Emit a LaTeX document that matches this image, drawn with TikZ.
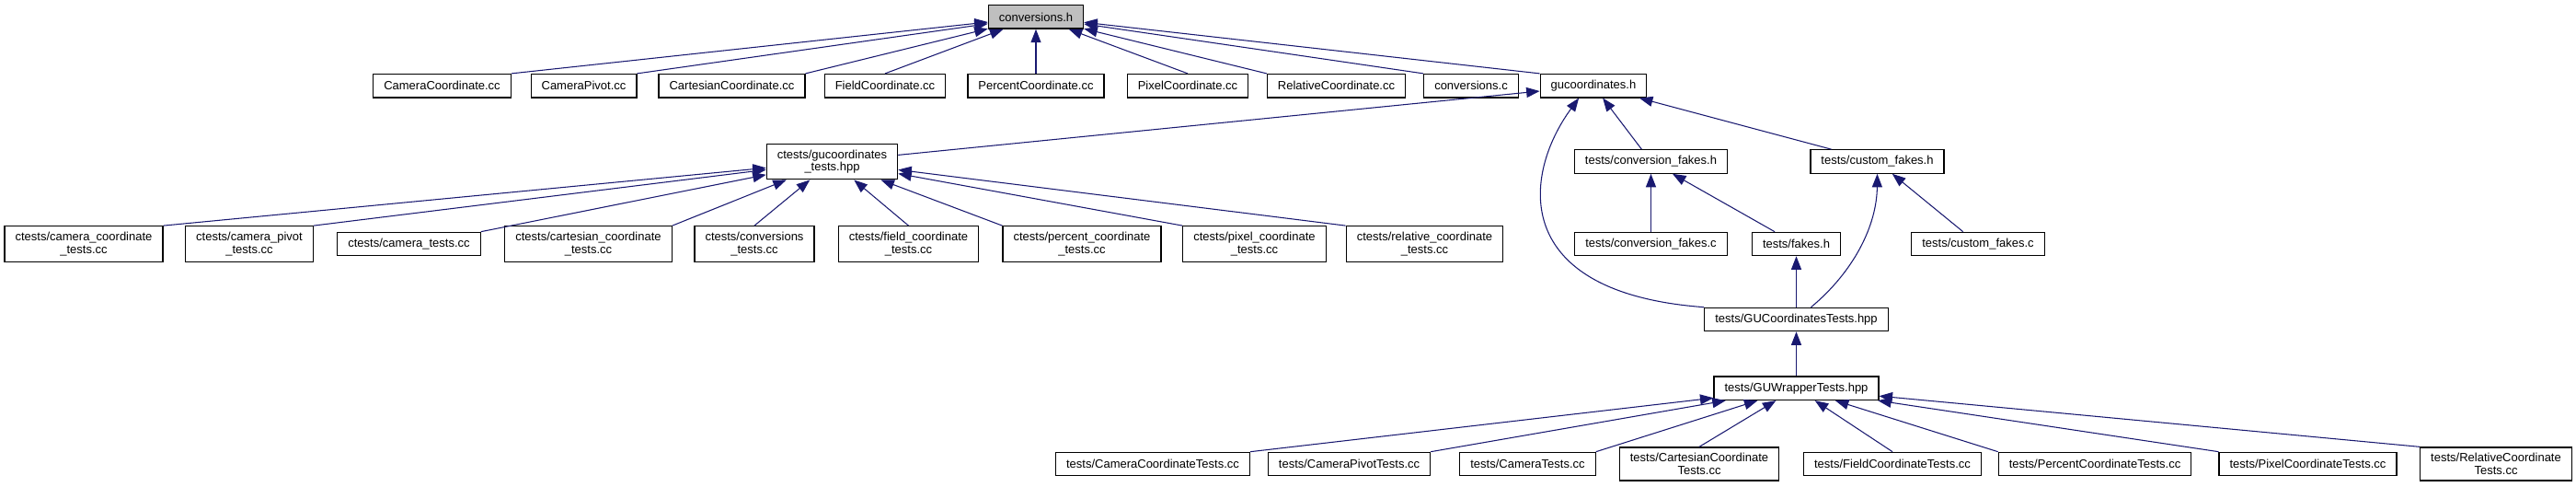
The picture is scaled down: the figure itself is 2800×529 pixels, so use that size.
\documentclass[tikz,border=0pt]{standalone}
\usepackage{fontspec}
\setmainfont{Liberation Sans}
\usetikzlibrary{arrows.meta}
\definecolor{edgeblue}{RGB}{25,25,112}
\begin{document}
\begin{tikzpicture}[x=0.2mm,y=0.2mm,
  file/.style={draw=black, line width=0.7pt, rectangle, align=center, fill=white,
    inner xsep=2.3mm, inner ysep=1.3mm, minimum height=5.08mm,
    font=\fontsize{7.4}{7.7}\selectfont},
  root/.style={file, fill=black!25},
  inc/.style={draw=edgeblue, line width=0.6pt, -{Triangle[length=2.9mm,width=2.2mm]}}]
\useasboundingbox (0,0) rectangle (2800,-529);
% the header and its direct includers
\node[root] (convh) at (1126,-18.4) {conversions.h};
\node[file] (camcc) at (480.5,-93.2) {CameraCoordinate.cc};
\node[file] (pivcc) at (634.5,-93.2) {CameraPivot.cc};
\node[file] (cartcc) at (795.5,-93.2) {CartesianCoordinate.cc};
\node[file] (fieldcc) at (962,-93.2) {FieldCoordinate.cc};
\node[file] (pctcc) at (1126,-93.2) {PercentCoordinate.cc};
\node[file] (pixcc) at (1291,-93.2) {PixelCoordinate.cc};
\node[file] (relcc) at (1452.5,-93.2) {RelativeCoordinate.cc};
\node[file] (convc) at (1599,-93.2) {conversions.c};
\node[file] (guh) at (1732,-93.2) {gucoordinates.h};
% second level
\node[file] (cthpp) at (904.5,-175.5) {ctests/gucoordinates\\\_tests.hpp};
\node[file] (cfakeh) at (1794.5,-175.5) {tests/conversion\_fakes.h};
\node[file] (custh) at (2040.5,-175.5) {tests/custom\_fakes.h};
% ctests sources and fakes
\node[file] (ctcam) at (91,-265) {ctests/camera\_coordinate\\\_tests.cc};
\node[file] (ctpiv) at (271,-265) {ctests/camera\_pivot\\\_tests.cc};
\node[file] (ctcamt) at (444.5,-265) {ctests/camera\_tests.cc};
\node[file] (ctcart) at (639.5,-265) {ctests/cartesian\_coordinate\\\_tests.cc};
\node[file] (ctconv) at (820,-265) {ctests/conversions\\\_tests.cc};
\node[file] (ctfield) at (987.5,-265) {ctests/field\_coordinate\\\_tests.cc};
\node[file] (ctpct) at (1176,-265) {ctests/percent\_coordinate\\\_tests.cc};
\node[file] (ctpix) at (1363.5,-265) {ctests/pixel\_coordinate\\\_tests.cc};
\node[file] (ctrel) at (1548.5,-265) {ctests/relative\_coordinate\\\_tests.cc};
\node[file] (cfakec) at (1794.5,-265) {tests/conversion\_fakes.c};
\node[file] (fakesh) at (1952.5,-265) {tests/fakes.h};
\node[file] (custc) at (2150,-265) {tests/custom\_fakes.c};
% test wrappers
\node[file] (guct) at (1952.5,-347) {tests/GUCoordinatesTests.hpp};
\node[file] (guwt) at (1952.5,-421.8) {tests/GUWrapperTests.hpp};
% bottom row
\node[file] (tcam) at (1253,-504) {tests/CameraCoordinateTests.cc};
\node[file] (tpiv) at (1466.5,-504) {tests/CameraPivotTests.cc};
\node[file] (tcamt) at (1660.5,-504) {tests/CameraTests.cc};
\node[file] (tcart) at (1847,-504) {tests/CartesianCoordinate\\Tests.cc};
\node[file] (tfield) at (2057,-504) {tests/FieldCoordinateTests.cc};
\node[file] (tpct) at (2277,-504) {tests/PercentCoordinateTests.cc};
\node[file] (tpix) at (2508.5,-504) {tests/PixelCoordinateTests.cc};
\node[file] (trel) at (2713,-504) {tests/RelativeCoordinate\\Tests.cc};
% edges into conversions.h
\draw[inc] (camcc.north east) -- (convh);
\draw[inc] (pivcc.north east) -- (convh);
\draw[inc] (cartcc.north east) -- (convh);
\draw[inc] (fieldcc.north) -- (convh);
\draw[inc] (pctcc) -- (convh);
\draw[inc] (pixcc.north) -- (convh);
\draw[inc] (relcc.north west) -- (convh);
\draw[inc] (convc.north west) -- (convh);
\draw[inc] (guh.north west) -- (convh);
% edges into gucoordinates.h
\draw[inc] (cthpp) -- (guh);
\draw[inc] (cfakeh) -- (guh);
\draw[inc] (custh) -- (guh);
\draw[inc] (guct.north west) .. controls (1640,-318) and (1655,-190) .. (guh.220);
% edges into ctests/gucoordinates_tests.hpp
\draw[inc] (ctcam.north east) -- (cthpp);
\draw[inc] (ctpiv.north east) -- (cthpp);
\draw[inc] (ctcamt.north east) -- (cthpp);
\draw[inc] (ctcart.north east) -- (cthpp);
\draw[inc] (ctconv.north) -- (cthpp);
\draw[inc] (ctfield.north) -- (cthpp);
\draw[inc] (ctpct.north west) -- (cthpp);
\draw[inc] (ctpix.north west) -- (cthpp);
\draw[inc] (ctrel.north west) -- (cthpp);
% fakes
\draw[inc] (cfakec) -- (cfakeh);
\draw[inc] (fakesh) -- (cfakeh);
\draw[inc] (custc) -- (custh);
\draw[inc] ([xshift=3.2mm]guct.north) .. controls (2015,-295) and (2040,-245) .. (custh.south);
\draw[inc] (guct) -- (fakesh);
\draw[inc] (guwt) -- (guct);
% edges into tests/GUWrapperTests.hpp
\draw[inc] (tcam.north east) -- (guwt);
\draw[inc] (tpiv.north east) -- (guwt);
\draw[inc] (tcamt.north east) -- (guwt);
\draw[inc] (tcart.north) -- (guwt);
\draw[inc] (tfield.north) -- (guwt);
\draw[inc] (tpct.north west) -- (guwt);
\draw[inc] (tpix.north west) -- (guwt);
\draw[inc] (trel.north west) -- (guwt);
\end{tikzpicture}
\end{document}
